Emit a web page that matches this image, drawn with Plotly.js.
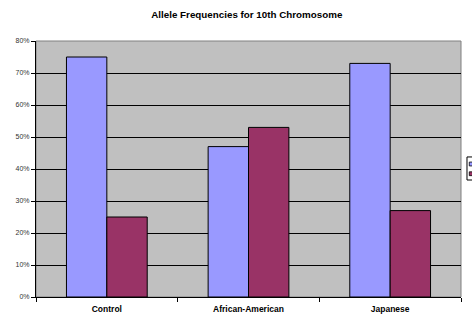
<!DOCTYPE html>
<html>
<head>
<meta charset="utf-8">
<script src="https://cdn.plot.ly/plotly-3.0.1.min.js"></script>
<style>html,body{margin:0;padding:0;background:#fff;overflow:hidden}</style>
</head>
<body>
<div id="chart" style="width:472px;height:315px"></div>
<script>
const categories = ["Control", "African-American", "Japanese"];
const series1Name = "Allele 1";
const series2Name = "Allele 2";
const series1 = [0.75, 0.47, 0.73];
const series2 = [0.25, 0.53, 0.27];
const yTickVals = [0, 0.1, 0.2, 0.3, 0.4, 0.5, 0.6, 0.7, 0.8];
const yTickText = ["0%", "10%", "20%", "30%", "40%", "50%", "60%", "70%", "80%"];

const c1 = "#9999FF", c2 = "#993366";
const traces = [
  {type: "bar", x: categories, y: series1, name: series1Name,
   marker: {color: c1, line: {color: "#000", width: 1}}},
  {type: "bar", x: categories, y: series2, name: series2Name,
   marker: {color: c2, line: {color: "#000", width: 1}}}
];

// legend (cut off by the right edge of the window, as in the reference)
const legendShapes = [
  {type: "rect", xref: "paper", yref: "paper", x0: 1.0141, x1: 1.06, y0: 0.457, y1: 0.547,
   line: {color: "#000", width: 1}, fillcolor: "#fff", layer: "above"},
  {type: "rect", xref: "paper", yref: "paper", x0: 1.0195, x1: 1.0275, y0: 0.512, y1: 0.527,
   line: {color: "#000", width: 0.8}, fillcolor: c1, layer: "above"},
  {type: "rect", xref: "paper", yref: "paper", x0: 1.0195, x1: 1.0275, y0: 0.474, y1: 0.489,
   line: {color: "#000", width: 0.8}, fillcolor: c2, layer: "above"}
];

const layout = {
  width: 472, height: 315,
  margin: {l: 36, r: 11, t: 41, b: 18, pad: 0},
  paper_bgcolor: "#fff",
  plot_bgcolor: "#C0C0C0",
  font: {family: "Liberation Sans, Arial, sans-serif", color: "#000"},
  title: {text: "<b>Allele Frequencies for 10th Chromosome</b>", font: {size: 9.8, color: "#000"},
          xref: "paper", x: 0.496, xanchor: "center", y: 0.955, yanchor: "middle"},
  barmode: "group",
  bargap: 0.43,
  bargroupgap: 0,
  showlegend: false,
  xaxis: {type: "category", showline: true, linecolor: "#000", linewidth: 1,
          ticks: "outside", ticklen: 4, tickcolor: "#000", tickson: "boundaries",
          ticklabelstandoff: 4,
          tickfont: {size: 8.5, color: "#000", weight: "bold"},
          showgrid: false, zeroline: false, fixedrange: true},
  yaxis: {range: [0, 0.8], tickvals: yTickVals, ticktext: yTickText,
          showline: true, linecolor: "#000", linewidth: 1,
          ticks: "outside", ticklen: 4, tickcolor: "#000",
          tickfont: {size: 7, color: "#333"},
          showgrid: true, gridcolor: "#000", gridwidth: 1, zeroline: false},
  shapes: [{type: "rect", xref: "paper", yref: "paper", x0: 0, x1: 1, y0: 0, y1: 1,
            line: {color: "#808080", width: 1}, layer: "below"}].concat(legendShapes)
};

Plotly.newPlot("chart", traces, layout, {displayModeBar: false, staticPlot: true});
</script>
</body>
</html>
